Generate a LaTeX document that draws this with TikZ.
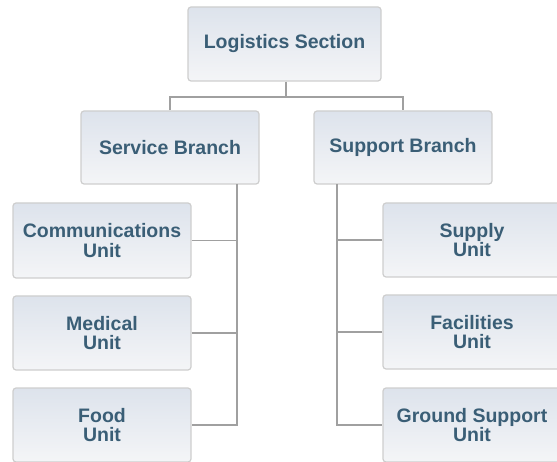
\documentclass[tikz,border=0pt]{standalone}
\usepackage{fontspec}
\setmainfont{Liberation Sans}
\definecolor{txtc}{RGB}{58,94,118}
\definecolor{boxtop}{RGB}{221,227,236}
\definecolor{boxbot}{RGB}{244,245,247}
\definecolor{boxline}{RGB}{206,206,206}
\definecolor{linec}{RGB}{160,160,160}
\tikzset{
  orgbox/.style={draw=boxline, line width=1.2pt, rounded corners=3pt,
    top color=boxtop, bottom color=boxbot, text=txtc,
    font=\fontsize{19.5}{19.5}\selectfont\bfseries, align=center,
    inner sep=0pt, minimum width=178pt, minimum height=74pt},
  conn/.style={draw=linec, line width=1.3pt}
}
\begin{document}
\begin{tikzpicture}[x=1pt,y=-1pt]
\useasboundingbox (0,0) rectangle (557,462);
\node[orgbox, minimum width=193pt] (LS) at (284.5,44) {Logistics Section};
\node[orgbox, minimum height=73pt] (SB) at (170,147.5) {Service Branch};
\node[orgbox, minimum height=73pt] (SpB) at (403,147.5) {Support Branch};
\node[orgbox, minimum height=75pt] (Comm) at (102,240.5) {Communications\\Unit};
\node[orgbox] (Med) at (102,333) {Medical\\Unit};
\node[orgbox] (Food) at (102,425) {Food\\Unit};
\node[orgbox] (Sup) at (472,240) {Supply\\Unit};
\node[orgbox] (Fac) at (472,332) {Facilities\\Unit};
\node[orgbox] (Gnd) at (472,425) {Ground Support\\Unit};
\coordinate (j) at (286,97);
\coordinate (sbv) at (237,184);
\coordinate (spv) at (337,184);
\draw[conn] (LS.south -| j) -- (j);
\draw[conn] (SB.north) |- (j) -| (SpB.north);
\draw[conn] (sbv) |- (Food.east);
\draw[conn] (Comm.east) -- (Comm.east -| sbv);
\draw[conn] (Med.east) -- (Med.east -| sbv);
\draw[conn] (spv) |- (Gnd.west);
\draw[conn] (Sup.west) -- (Sup.west -| spv);
\draw[conn] (Fac.west) -- (Fac.west -| spv);
\end{tikzpicture}
\end{document}
